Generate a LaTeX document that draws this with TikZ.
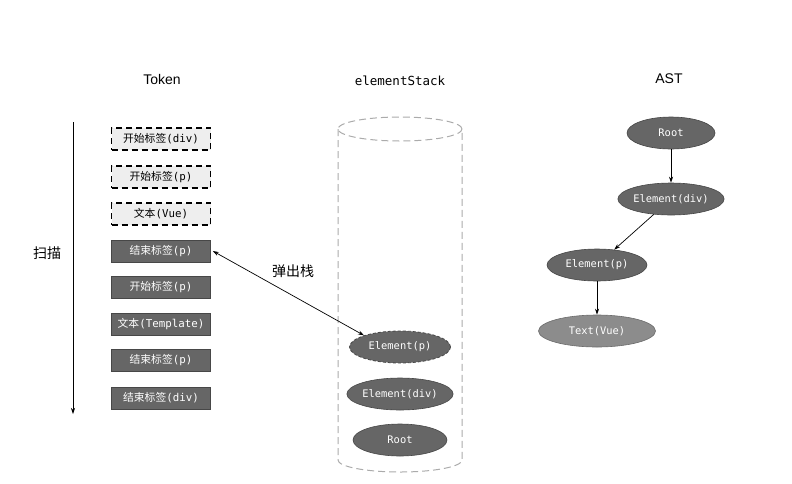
\documentclass[tikz,border=0pt]{standalone}
\usepackage{fontspec}
\setmainfont{Liberation Sans}
\setmonofont{DejaVu Sans Mono}
\newfontfamily\cjk{Noto Sans CJK SC}
\usetikzlibrary{shapes.geometric,arrows.meta}
\definecolor{darkfill}{HTML}{666666}
\definecolor{darkline}{HTML}{474747}
\definecolor{lightfill}{HTML}{EEEEEE}
\definecolor{textfill}{HTML}{8C8C8C}
\definecolor{cylline}{HTML}{ABABAB}
\begin{document}
\begin{tikzpicture}[x=1pt,y=-1pt,
  tok/.style={rectangle,minimum width=99pt,minimum height=22pt,inner sep=0pt,
    font=\ttfamily\fontsize{10.8}{12}\selectfont},
  tokdash/.style={tok,draw=black,fill=lightfill,dashed,line width=1.5pt,dash pattern=on 6pt off 4pt,text=black},
  toksolid/.style={tok,draw=darkline,fill=darkfill,text=white,line width=0.6pt},
  ell/.style={ellipse,inner sep=0pt,minimum height=32pt,draw=darkline,fill=darkfill,text=white,
    line width=0.6pt,font=\ttfamily\fontsize{10.4}{12}\selectfont},
  title/.style={font=\fontsize{14}{16}\selectfont},
  arr/.style={-{Stealth[length=6pt,width=4pt]},line width=0.7pt}
]
\useasboundingbox (0,0) rectangle (792,483);

% titles
\node[title] (tToken) at (162,79) {Token};
\node[font=\ttfamily\fontsize{12.5}{14}\selectfont] (tStack) at (400,81) {elementStack};
\node[title] (tAST) at (669,79) {AST};

% scan arrow
\coordinate (s0) at (73,122);
\coordinate (s1) at (73,414);
\draw[arr] (s0) -- (s1);
\node[font=\cjk\fontsize{14}{16}\selectfont] (scan) at (47,253) {扫描};

% tokens
\node[tokdash] (k1) at (161,139) {{\cjk 开始标签}(div)};
\node[tokdash] (k2) at (161,177) {{\cjk 开始标签}(p)};
\node[tokdash] (k3) at (161,214) {{\cjk 文本}(Vue)};
\node[toksolid] (k4) at (161,251) {{\cjk 结束标签}(p)};
\node[toksolid] (k5) at (161,287) {{\cjk 开始标签}(p)};
\node[toksolid] (k6) at (161,324) {{\cjk 文本}(Template)};
\node[toksolid] (k7) at (161,360) {{\cjk 结束标签}(p)};
\node[toksolid] (k8) at (161,398) {{\cjk 结束标签}(div)};

% cylinder
\draw[cylline,dashed,line width=1pt,dash pattern=on 7pt off 4pt]
  (400,129) ellipse [x radius=62pt,y radius=12pt];
\coordinate (cl0) at (338,129);
\coordinate (cl1) at (338,460);
\coordinate (cr0) at (462,129);
\coordinate (cr1) at (462,460);
\draw[cylline,dashed,line width=1pt,dash pattern=on 7pt off 4pt]
  (cl0) -- (cl1) arc[start angle=180,end angle=360,x radius=62pt,y radius=12pt] -- (cr0);

% stack
\node[ell,minimum width=101pt,dashed,dash pattern=on 3pt off 2pt,line width=0.8pt] (sp) at (400,347) {Element(p)};
\node[ell,minimum width=101pt] (sdiv) at (400,394) {Element(div)};
\node[ell,minimum width=94pt] (sroot) at (400,440) {Root};

% pop arrow
\draw[{Stealth[length=6pt,width=4pt]}-{Stealth[length=6pt,width=4pt]},line width=0.7pt]
  (k4.east) ++(2,0) coordinate (pa) (pa) -- (sp.north west);
\node[font=\cjk\fontsize{14}{16}\selectfont] (pop) at (293,271) {弹出栈};

% AST
\node[ell,minimum width=88pt] (aroot) at (671,133) {Root};
\node[ell,minimum width=102pt] (adiv) at (671,199) {Element(div)};
\node[ell,minimum width=100pt] (ap) at (597,265) {Element(p)};
\node[ell,minimum width=117pt,fill=textfill,draw=darkline!80] (atext) at (597,331) {Text(Vue)};
\draw[arr] (aroot) -- (adiv);
\draw[arr] (adiv) -- (ap);
\draw[arr] (ap) -- (atext);
\end{tikzpicture}
\end{document}
